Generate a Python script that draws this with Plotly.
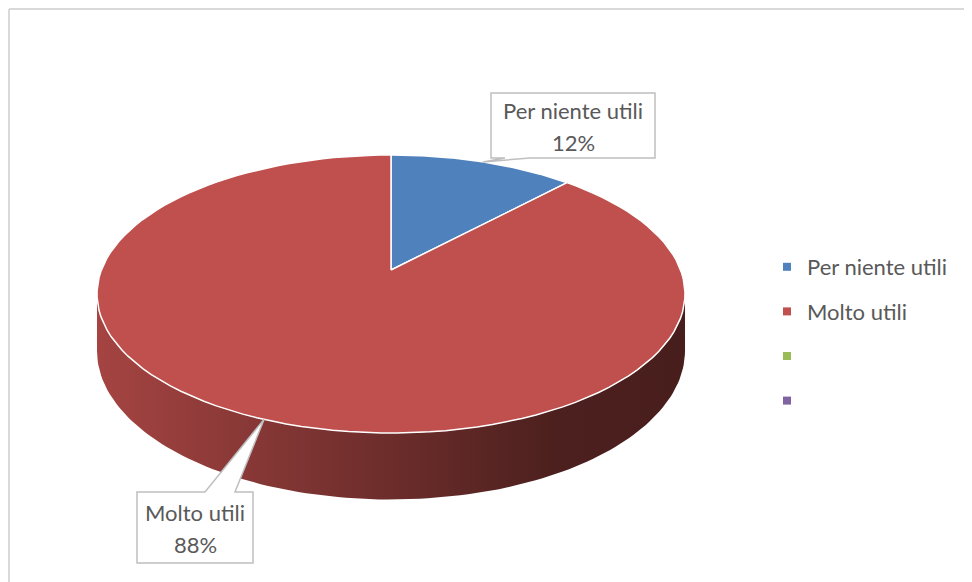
import numpy as np
import plotly.graph_objects as go

# data
categories = ["Per niente utili", "Molto utili", "", ""]
values = [12, 88, 0, 0]
colors = ["#4f81bd", "#c0504d", "#9bbb59", "#8064a2"]

# page offset (body margin) and figure size
OFF = 8
W, HT = 972 - OFF, 582 - OFF

# pie geometry (page pixels, perspective view of a tilted disc)
CX, CY = 391, 270
R, A, K = 289.6, 134.9, 0.1727
H = 55

def proj(theta_deg, drop=0.0):
    t = np.radians(theta_deg)
    w, u = np.cos(t), np.sin(t)
    d = 1 + K * w
    return CX + R * u / d, CY - A * w / d + drop / d

def arc(a, b, drop=0.0, n=120):
    th = np.linspace(a, b, n)
    return proj(th, drop)

def shade(hexcol, f):
    r, g, b = (int(hexcol[i:i + 2], 16) for i in (1, 3, 5))
    return "rgb(%d,%d,%d)" % (r * f, g * f, b * f)

total = sum(values)
starts = np.cumsum([0] + values[:-1]) / total * 360
ends = np.cumsum(values) / total * 360

fig = go.Figure()

# side wall (front half only)
front_a = np.degrees(np.arccos(-K))
front_b = 360 - front_a
for cat, v, s, e, c in zip(categories, values, starts, ends, colors):
    if v == 0:
        continue
    a, b = max(s, front_a), min(e, front_b)
    if a >= b:
        continue
    xt, yt = arc(a, b)
    xb, yb = arc(b, a, H)
    fig.add_trace(go.Scatter(
        x=np.concatenate([xt, xb]), y=np.concatenate([yt, yb]),
        fill="toself", mode="lines", line=dict(width=0),
        fillgradient=dict(type="horizontal",
                          colorscale=[[0, shade(c, 0.86)], [0.78, shade(c, 0.40)], [1, shade(c, 0.38)]]),
        showlegend=False, hoverinfo="skip"))

# top face
for cat, v, s, e, c in zip(categories, values, starts, ends, colors):
    if v == 0:
        continue
    xa, ya = arc(s, e)
    fig.add_trace(go.Scatter(
        x=np.concatenate([[CX], xa, [CX]]), y=np.concatenate([[CY], ya, [CY]]),
        fill="toself", fillcolor=c, mode="lines",
        line=dict(color="white", width=1.5),
        name=cat, showlegend=False, hoverinfo="name"))

# legend entries
for i, (cat, c) in enumerate(zip(categories, colors)):
    fig.add_trace(go.Scatter(
        x=[None], y=[None], mode="markers", name=cat, legendgroup=str(i),
        marker=dict(symbol="square", size=8, color=c)))

# callout labels
boxes = [(491, 93, 655, 158, 505, 530, "bottom"), (137, 492, 253, 563, 205, 235, "top")]
font = dict(family="Lato, Liberation Sans, sans-serif", size=22, color="#595959")
shapes = []
annotations = []
for (x0, y0, x1, y1, b0, b1, side), cat, v, s, e in zip(boxes, categories, values, starts, ends):
    tx, ty = proj((s + e) / 2)
    if side == "bottom":
        path = f"M {x0} {y0} L {x1} {y0} L {x1} {y1} L {b1} {y1} L {tx:.1f} {ty:.1f} L {b0} {y1} L {x0} {y1} Z"
    else:
        path = f"M {x0} {y0} L {b0} {y0} L {tx:.1f} {ty:.1f} L {b1} {y0} L {x1} {y0} L {x1} {y1} L {x0} {y1} Z"
    shapes.append(dict(type="path", path=path, xref="x", yref="y",
                       fillcolor="white", line=dict(color="#bfbfbf", width=1.5)))
    cx, cy = (x0 + x1) / 2, (y0 + y1) / 2
    annotations.append(dict(x=cx, y=cy - 15, text=cat, showarrow=False, font=font,
                            xref="x", yref="y"))
    annotations.append(dict(x=cx, y=cy + 17, text=f"{v / total * 100:.0f}%", showarrow=False,
                            font=font, xref="x", yref="y"))

# chart border
shapes.append(dict(type="line", xref="x", yref="y", x0=9, x1=972, y0=9, y1=9,
                   line=dict(color="#d9d9d9", width=2)))
shapes.append(dict(type="line", xref="x", yref="y", x0=9, x1=9, y0=9, y1=582,
                   line=dict(color="#d9d9d9", width=2)))

fig.update_layout(
    width=W, height=HT,
    margin=dict(l=0, r=0, t=0, b=0),
    paper_bgcolor="white", plot_bgcolor="white",
    xaxis=dict(range=[OFF, 972], visible=False, fixedrange=True),
    yaxis=dict(range=[582, OFF], visible=False, fixedrange=True),
    shapes=shapes, annotations=annotations,
    legend=dict(x=(767 - OFF) / W, y=1 - (246 - OFF) / HT, xanchor="left", yanchor="top",
                font=font, tracegroupgap=13, bgcolor="rgba(0,0,0,0)"),
    showlegend=True,
)

fig.write_html("out.html")
